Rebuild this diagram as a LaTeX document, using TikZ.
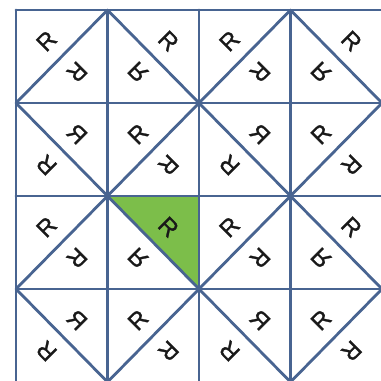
\documentclass[tikz,border=0pt]{standalone}
\usepackage{fontspec}
\newfontfamily\letterfont[FakeBold=1.2]{Liberation Sans}

\definecolor{linecol}{RGB}{72,100,145}
\definecolor{tilegreen}{RGB}{124,190,74}

\begin{document}
\begin{tikzpicture}[
    x=1pt, y=1pt,
    gridline/.style = {draw=linecol, line width=2.8pt, line cap=round},
    letter/.style   = {font=\letterfont\fontsize{24}{24}\selectfont,
                       inner sep=0pt, text=black!90}
  ]
  \useasboundingbox (0,0) rectangle (381,381);

  % ----------------------------------------------------------------
  % Lattice points p<col><row>, cells 91.5 wide and 93 high
  % ----------------------------------------------------------------
  \foreach \cc in {0,...,4}{
    \foreach \rr in {0,...,4}{
      \coordinate (p\cc\rr) at (16+\cc*91.5, 371-\rr*93);
    }
  }

  % shaded triangle (row 2, col 1, upper right half)
  \fill[tilegreen] (p12) -- (p22) -- (p23) -- cycle;

  % ----------------------------------------------------------------
  % Square grid and the diagonals
  % ----------------------------------------------------------------
  \foreach \i in {0,...,4}{
    \draw[gridline] (p\i0) -- (p\i4);
    \draw[gridline] (p0\i) -- (p4\i);
  }
  \foreach \a/\b in {01/10, 03/30, 14/41, 34/43,
                     10/43, 30/41, 01/34, 03/14}{
    \draw[gridline] (p\a) -- (p\b);
  }

  % ----------------------------------------------------------------
  % Letters: one 2x2 block, repeated; u,v in thirds of a cell
  % ----------------------------------------------------------------
  \foreach \bc in {0,2}{
    \foreach \br in {0,2}{
      \foreach \dc/\dr/\u/\v/\rot/\xs in {
          0/0/1/1/45/1,    0/0/2/2/225/1,
          1/0/2/1/-45/1,   1/0/1/2/135/-1,
          0/1/2/1/-45/-1,  0/1/1/2/135/1,
          1/1/1/1/45/1,    1/1/2/2/225/1}{
        \node[letter, rotate=\rot, xscale=\xs] (R\bc\br-\dc\dr-\u\v)
          at (16+\bc*91.5+\dc*91.5+\u*30.5, 371-\br*93-\dr*93-\v*31) {R};
      }
    }
  }

\end{tikzpicture}
\end{document}
